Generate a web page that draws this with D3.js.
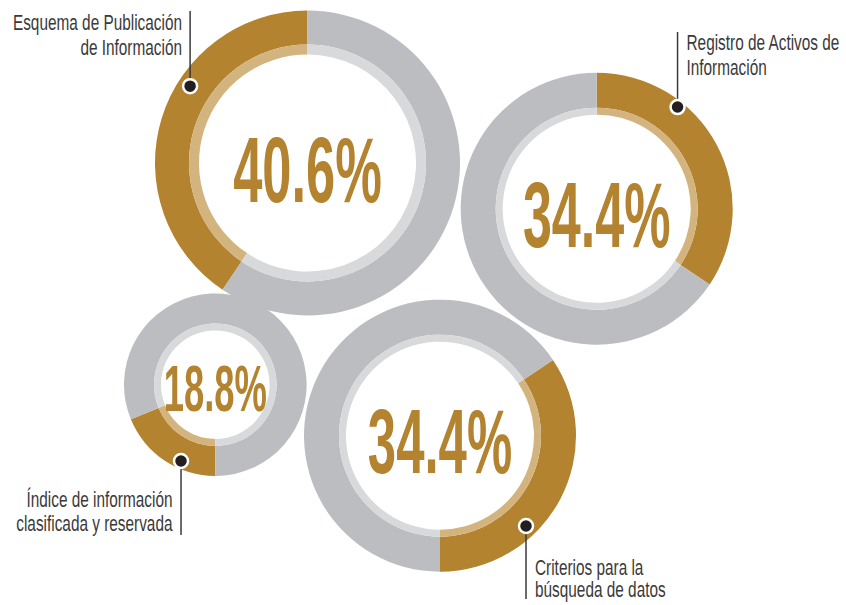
<!DOCTYPE html>
<html>
<head>
<meta charset="utf-8">
<script src="https://cdn.jsdelivr.net/npm/d3@7"></script>
<style>
  body { margin: 0; background: #fff; }
  svg { display: block; }
</style>
</head>
<body>
<svg id="chart" width="846" height="605"></svg>
<script>
// data
const labels = [
  ["Esquema de Publicación", "de Información"],
  ["Registro de Activos de", "Información"],
  ["Índice de información", "clasificada y reservada"],
  ["Criterios para la", "búsqueda de datos"]
]
const values = [40.6, 34.4, 18.8, 34.4]

// where each ring sits (angles in degrees, clockwise from 12 o'clock)
const layout = [
  {cx: 307.5, cy: 163, r: 152.5, band: 34, ring: 10, start: 0, dir: -1, numH: 67,
   dotA: -56.8, dotR: 0.92, lineTo: 11, tx: 182, ty: 30, anchor: "end", gap: 25},
  {cx: 596.7, cy: 208.7, r: 136, band: 35, ring: 7, start: 0, dir: 1, numH: 66.5,
   dotA: 38.5, dotR: 0.955, lineTo: 32, tx: 686.5, ty: 49.5, anchor: "start", gap: 25.5},
  {cx: 215.3, cy: 384.7, r: 91.3, band: 30, ring: 7, start: 180, dir: 1, numH: 46.5,
   dotA: 204.2, dotR: 0.916, lineTo: 535, tx: 172.5, ty: 506.5, anchor: "end", gap: 25},
  {cx: 440, cy: 435.7, r: 136, band: 35, ring: 7, start: 180, dir: -1, numH: 65,
   dotA: 136.4, dotR: 0.917, lineTo: 599, tx: 535, ty: 575, anchor: "start", gap: 22.3}
]

const gold = "#b3832f", goldLight = "#d3b47f"
const gray = "#bcbdc0", grayLight = "#d8d9db"
const ink = "#3a3a3a"

const svg = d3.select("#chart")
const deg = d3.scaleLinear().domain([0, 360]).range([0, 2 * Math.PI])

// rings
layout.forEach((L, i) => {
  const a0 = deg(L.start)
  const pie = d3.pie().sort(null).value(d => d)
    .startAngle(a0).endAngle(a0 + L.dir * 2 * Math.PI)
  const slices = pie([values[i], 100 - values[i]])

  const outer = d3.arc().innerRadius(L.r - L.band).outerRadius(L.r)
  const inner = d3.arc().innerRadius(L.r - L.band - L.ring).outerRadius(L.r - L.band)

  const g = svg.append("g").attr("transform", `translate(${L.cx},${L.cy})`)
  g.selectAll("path.band")
    .data(slices)
    .enter()
    .append("path")
    .attr("class", "band")
    .attr("d", outer)
    .attr("fill", (d, j) => j ? gray : gold)
  g.selectAll("path.ring")
    .data(slices)
    .enter()
    .append("path")
    .attr("class", "ring")
    .attr("d", inner)
    .attr("fill", (d, j) => j ? grayLight : goldLight)

  g.append("text")
    .text(d3.format(".1f")(values[i]) + "%")
    .attr("x", 0)
    .attr("y", L.numH * 0.575)
    .attr("text-anchor", "middle")
    .attr("font-family", "'Liberation Sans', Arial, sans-serif")
    .attr("font-weight", "bold")
    .attr("font-size", L.numH / 0.716)
    .attr("textLength", L.numH * 2.22)
    .attr("lengthAdjust", "spacingAndGlyphs")
    .attr("fill", gold)
})

// leader lines, dots and labels
layout.forEach((L, i) => {
  const a = deg(L.dotA)
  const dx = L.cx + L.r * L.dotR * Math.sin(a)
  const dy = L.cy - L.r * L.dotR * Math.cos(a)

  svg.append("line")
    .attr("x1", dx).attr("y1", dy)
    .attr("x2", dx).attr("y2", L.lineTo)
    .attr("stroke", ink)
    .attr("stroke-width", 1.5)
  svg.append("circle")
    .attr("cx", dx).attr("cy", dy)
    .attr("r", 7)
    .attr("fill", "#231f20")
    .attr("stroke", "#fff")
    .attr("stroke-width", 2.5)

  const t = svg.append("text")
    .attr("transform", `translate(${L.tx},${L.ty}) scale(0.715,1)`)
    .attr("text-anchor", L.anchor)
    .attr("font-family", "'Liberation Sans', Arial, sans-serif")
    .attr("font-size", 21.5)
    .attr("fill", ink)
  t.selectAll("tspan")
    .data(labels[i])
    .enter()
    .append("tspan")
    .attr("x", 0)
    .attr("y", (d, j) => j * L.gap)
    .text(d => d)
})
</script>
</body>
</html>
